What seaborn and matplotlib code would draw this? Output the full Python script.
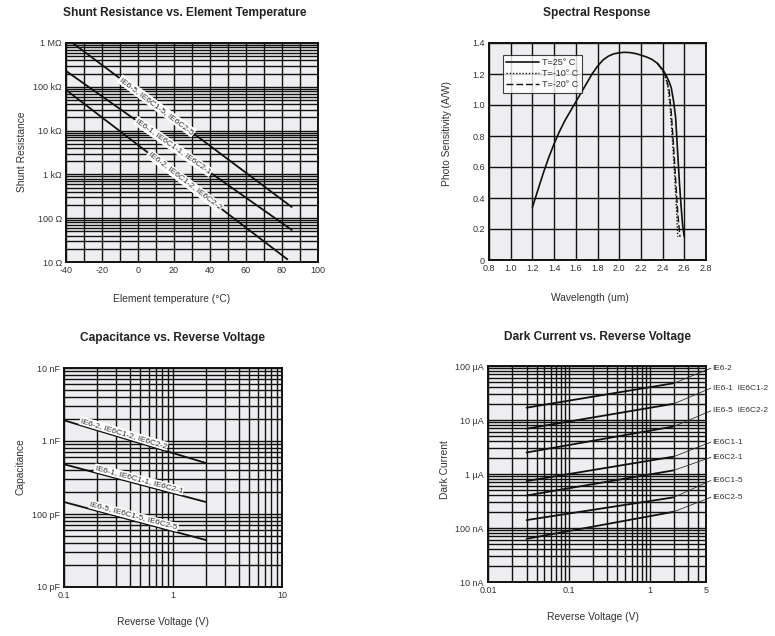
import numpy as np
import pandas as pd
import seaborn as sns
import matplotlib
matplotlib.use("Agg")
import matplotlib.pyplot as plt
from matplotlib.ticker import FixedLocator, FixedFormatter, LogLocator, MultipleLocator, NullFormatter

# ---- data ----
# shunt resistance vs element temperature (ohm)
shunt_labels = ["IE6-5, IE6C1-5, IE6C2-5", "IE6-1, IE6C1-1, IE6C2-1", "IE6-2, IE6C1-2, IE6C2-2"]
shunt_temp = [[-36.3, 85.4], [-40, 85.4], [-40, 83]]
shunt_ohm = [[1e6, 180], [2.3e5, 54], [8.5e4, 11.5]]
shunt_label_temp = [10.4, 19.6, 26.0]
shunt_yticks = [10, 100, 1e3, 1e4, 1e5, 1e6]
shunt_yticklabels = ["10 Ω", "100 Ω", "1 kΩ", "10 kΩ", "100 kΩ", "1 MΩ"]

# spectral response (A/W)
wl_25 = [1.20, 1.25, 1.30, 1.35, 1.40, 1.45, 1.50, 1.55, 1.60, 1.65, 1.70, 1.75, 1.80, 1.85,
         1.90, 1.95, 2.00, 2.05, 2.10, 2.15, 2.20, 2.25, 2.30, 2.35, 2.40, 2.43, 2.46, 2.48,
         2.50, 2.52, 2.54, 2.555, 2.57, 2.585, 2.60]
sens_25 = [0.34, 0.45, 0.56, 0.66, 0.75, 0.83, 0.90, 0.96, 1.02, 1.08, 1.14, 1.20, 1.25, 1.29,
           1.315, 1.33, 1.337, 1.34, 1.338, 1.332, 1.322, 1.31, 1.295, 1.27, 1.23, 1.195, 1.15, 1.11,
           1.03, 0.92, 0.68, 0.50, 0.35, 0.22, 0.15]
wl_m10 = [2.35, 2.40, 2.43, 2.45, 2.47, 2.49, 2.51, 2.53, 2.54]
sens_m10 = [1.27, 1.22, 1.17, 1.11, 0.98, 0.78, 0.56, 0.30, 0.15]
wl_m20 = [2.35, 2.40, 2.43, 2.46, 2.48, 2.50, 2.52, 2.54, 2.56]
sens_m20 = [1.27, 1.225, 1.18, 1.10, 0.95, 0.75, 0.52, 0.30, 0.15]
spec_legend = ["T=25° C", "T=-10° C", "T=-20° C"]

# capacitance vs reverse voltage (pF)
cap_labels = ["IE6-2, IE6C1-2, IE6C2-2", "IE6-1, IE6C1-1, IE6C2-1", "IE6-5, IE6C1-5, IE6C2-5"]
cap_v = [0.1, 2]
cap_pf = [[1920, 500], [480, 146], [146, 44]]
cap_label_v = [0.139, 0.19, 0.17]
cap_yticks = [10, 100, 1000, 10000]
cap_yticklabels = ["10 pF", "100 pF", "1 nF", "10 nF"]

# dark current vs reverse voltage (nA)
dark_labels = ["IE6-2", "IE6-1  IE6C1-2", "IE6-5  IE6C2-2", "IE6C1-1", "IE6C2-1", "IE6C1-5", "IE6C2-5"]
dark_v = [0.03, 2]
dark_na = [[16900, 48000], [6900, 20000], [2500, 7600], [740, 2100], [400, 1170], [140, 370], [63, 200]]
dark_label_na = [91000, 39000, 14800, 3900, 2040, 760, 372]
dark_label_v = 5.75
dark_yticks = [10, 100, 1e3, 1e4, 1e5]
dark_yticklabels = ["10 nA", "100 nA", "1 µA", "10 µA", "100 µA"]

# ---- style ----
sns.set_theme(style="white")
plt.rcParams["font.family"] = ["Liberation Sans", "DejaVu Sans"]
plt.rcParams["axes.unicode_minus"] = False
plt.rcParams["text.color"] = "#333333"
plt.rcParams["xtick.color"] = "#333333"
plt.rcParams["ytick.color"] = "#333333"
BG = "#eeedf0"
GRID = dict(color="#111111", linewidth=1.0)

fig = plt.figure(figsize=(7.75, 6.36), dpi=100)


def frame(ax):
    ax.set_facecolor(BG)
    for s in ax.spines.values():
        s.set_color("#111111")
        s.set_linewidth(1.4)
    ax.tick_params(which="both", length=0, labelsize=6.5, pad=3)
    ax.grid(True, which="both", **GRID)
    ax.set_axisbelow(True)
    ax.set_xlabel("")
    ax.set_ylabel("")


def px_angle(ax, x0, y0, x1, y1):
    p0 = ax.transData.transform((x0, y0))
    p1 = ax.transData.transform((x1, y1))
    return np.degrees(np.arctan2(p1[1] - p0[1], p1[0] - p0[0]))


# ---- shunt resistance ----
ax1 = fig.add_axes([66 / 775, 1 - 262 / 636, 252 / 775, 219 / 636])
for t, r in zip(shunt_temp, shunt_ohm):
    sns.lineplot(x=t, y=r, color="#111111", linewidth=1.3, ax=ax1)
ax1.set_yscale("log")
ax1.set_xlim(-40, 100)
ax1.set_ylim(10, 1e6)
ax1.xaxis.set_major_locator(MultipleLocator(20))
ax1.xaxis.set_minor_locator(MultipleLocator(10))
ax1.yaxis.set_major_locator(FixedLocator(shunt_yticks))
ax1.yaxis.set_major_formatter(FixedFormatter(shunt_yticklabels))
ax1.yaxis.set_minor_locator(LogLocator(base=10, subs=np.arange(2, 10)))
ax1.yaxis.set_minor_formatter(NullFormatter())
frame(ax1)
for lab, t, r, lt in zip(shunt_labels, shunt_temp, shunt_ohm, shunt_label_temp):
    ly = 10 ** np.interp(lt, t, np.log10(r))
    ang = px_angle(ax1, t[0], r[0], t[1], r[1])
    ax1.text(lt, ly, lab, rotation=ang, rotation_mode="anchor", ha="center", va="center",
             fontsize=6, color="#333333",
             bbox=dict(boxstyle="square,pad=0.15", fc="white", ec="none"))

# ---- spectral response ----
ax2 = fig.add_axes([489 / 775, 1 - 260 / 636, 217 / 775, 217 / 636])
sns.lineplot(x=wl_25, y=sens_25, color="#111111", linewidth=1.2, linestyle="-",
             label=spec_legend[0], ax=ax2, sort=False)
sns.lineplot(x=wl_m10, y=sens_m10, color="#111111", linewidth=1.0, linestyle=(0, (1, 1.3)),
             label=spec_legend[1], ax=ax2, sort=False)
sns.lineplot(x=wl_m20, y=sens_m20, color="#111111", linewidth=1.0, linestyle=(0, (5, 2)),
             label=spec_legend[2], ax=ax2, sort=False)
ax2.set_xlim(0.8, 2.8)
ax2.set_ylim(0, 1.4)
ax2.xaxis.set_major_locator(FixedLocator(np.round(np.arange(0.8, 2.81, 0.2), 1)))
ax2.xaxis.set_major_formatter(FixedFormatter(["0.8", "1.0", "1.2", "1.4", "1.6", "1.8",
                                               "2.0", "2.2", "2.4", "2.6", "2.8"]))
ax2.yaxis.set_major_locator(FixedLocator(np.round(np.arange(0, 1.41, 0.2), 1)))
ax2.yaxis.set_major_formatter(FixedFormatter(["0", "0.2", "0.4", "0.6", "0.8", "1.0", "1.2", "1.4"]))
frame(ax2)
leg = ax2.legend(loc="upper left", bbox_to_anchor=(0.065, 0.946), borderaxespad=0,
                 fontsize=6.5, handlelength=3.6, handletextpad=0.4, labelspacing=0.25,
                 borderpad=0.35, fancybox=False, frameon=True)
leg.get_frame().set_edgecolor("#111111")
leg.get_frame().set_linewidth(0.8)
leg.get_frame().set_facecolor("white")

# ---- capacitance ----
ax3 = fig.add_axes([64 / 775, 1 - 587 / 636, 218 / 775, 219 / 636])
for c in cap_pf:
    sns.lineplot(x=cap_v, y=c, color="#111111", linewidth=1.3, ax=ax3)
ax3.set_xscale("log")
ax3.set_yscale("log")
ax3.set_xlim(0.1, 10)
ax3.set_ylim(10, 10000)
ax3.xaxis.set_major_locator(FixedLocator([0.1, 1, 10]))
ax3.xaxis.set_major_formatter(FixedFormatter(["0.1", "1", "10"]))
ax3.xaxis.set_minor_locator(LogLocator(base=10, subs=np.arange(2, 10)))
ax3.xaxis.set_minor_formatter(NullFormatter())
ax3.yaxis.set_major_locator(FixedLocator(cap_yticks))
ax3.yaxis.set_major_formatter(FixedFormatter(cap_yticklabels))
ax3.yaxis.set_minor_locator(LogLocator(base=10, subs=np.arange(2, 10)))
ax3.yaxis.set_minor_formatter(NullFormatter())
frame(ax3)
for lab, c, lv in zip(cap_labels, cap_pf, cap_label_v):
    ly = 10 ** np.interp(np.log10(lv), np.log10(cap_v), np.log10(c))
    ang = px_angle(ax3, cap_v[0], c[0], cap_v[1], c[1])
    ax3.text(lv, ly * 1.04, lab, rotation=ang, rotation_mode="anchor", ha="left", va="bottom",
             fontsize=6, color="#333333",
             bbox=dict(boxstyle="square,pad=0.1", fc="white", ec="none"))

# ---- dark current ----
ax4 = fig.add_axes([488 / 775, 1 - 582 / 636, 218 / 775, 216 / 636])
for d in dark_na:
    sns.lineplot(x=dark_v, y=d, color="#111111", linewidth=1.3, ax=ax4)
ax4.set_xscale("log")
ax4.set_yscale("log")
ax4.set_xlim(0.01, 5)
ax4.set_ylim(10, 1e5)
ax4.xaxis.set_major_locator(FixedLocator([0.01, 0.1, 1, 5]))
ax4.xaxis.set_major_formatter(FixedFormatter(["0.01", "0.1", "1", "5"]))
ax4.xaxis.set_minor_locator(LogLocator(base=10, subs=np.arange(2, 10)))
ax4.xaxis.set_minor_formatter(NullFormatter())
ax4.yaxis.set_major_locator(FixedLocator(dark_yticks))
ax4.yaxis.set_major_formatter(FixedFormatter(dark_yticklabels))
ax4.yaxis.set_minor_locator(LogLocator(base=10, subs=np.arange(2, 10)))
ax4.yaxis.set_minor_formatter(NullFormatter())
frame(ax4)
for lab, d, ln in zip(dark_labels, dark_na, dark_label_na):
    ax4.plot([dark_v[1], dark_label_v], [d[1], ln], color="#333333", linewidth=0.6, clip_on=False)
    ax4.text(dark_label_v * 1.05, ln, lab, ha="left", va="center", fontsize=6, color="#333333",
             clip_on=False)

# ---- titles and axis labels ----
title_kw = dict(fontsize=8.6, fontweight="bold", color="#222222", ha="center", va="center")
fig.text(185 / 775, 1 - 13 / 636, "Shunt Resistance vs. Element Temperature", **title_kw)
fig.text(597 / 775, 1 - 13 / 636, "Spectral Response", **title_kw)
fig.text(173 / 775, 1 - 338 / 636, "Capacitance vs. Reverse Voltage", **title_kw)
fig.text(597 / 775, 1 - 337 / 636, "Dark Current vs. Reverse Voltage", **title_kw)

lab_kw = dict(fontsize=7.4, color="#333333", ha="center", va="center")
fig.text(172 / 775, 1 - 299 / 636, "Element temperature (°C)", **lab_kw)
fig.text(22 / 775, 1 - 152 / 636, "Shunt Resistance", rotation=90, **lab_kw)
fig.text(590 / 775, 1 - 298 / 636, "Wavelength (um)", **lab_kw)
fig.text(447 / 775, 1 - 133 / 636, "Photo Sensitivity (A/W)", rotation=90, **lab_kw)
fig.text(163 / 775, 1 - 622 / 636, "Reverse Voltage (V)", **lab_kw)
fig.text(20 / 775, 1 - 467 / 636, "Capacitance", rotation=90, **lab_kw)
fig.text(593 / 775, 1 - 617 / 636, "Reverse Voltage (V)", **lab_kw)
fig.text(445 / 775, 1 - 470 / 636, "Dark Current", rotation=90, **lab_kw)

fig.savefig("out.png", dpi=100, facecolor="white")
